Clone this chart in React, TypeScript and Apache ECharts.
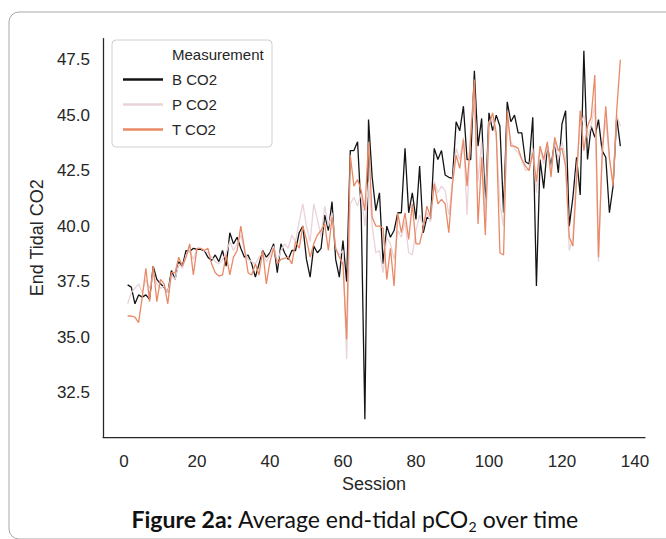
import React, { useEffect, useRef } from "react";
import * as echarts from "echarts";

const SERIES_NAMES = ["B CO2", "P CO2", "T CO2"];
const SERIES_COLORS = ["#141414", "#e9d3d9", "#e98a67"];
const X_TICKS = [0, 20, 40, 60, 80, 100, 120, 140];
const Y_TICKS = [32.5, 35.0, 37.5, 40.0, 42.5, 45.0, 47.5];

const B_CO2 = [
  37.35, 37.25, 36.5, 36.9, 36.8, 36.9, 36.7, 38.2, 37.6, 37.4,
  37.25, 37.0, 38.0, 37.6, 38.4, 38.2, 38.9, 38.85, 39.0, 38.95,
  38.95, 38.9, 38.6, 38.45, 38.7, 38.4, 38.9, 38.2, 39.7, 39.2,
  39.5, 39.0, 38.6, 38.7, 38.3, 37.7, 38.3, 38.9, 38.6, 38.8,
  39.2, 37.9, 39.2, 38.8, 38.5, 38.9, 38.9, 39.7, 40.0, 38.5,
  37.7, 39.1, 38.8, 39.0, 40.5, 39.8, 41.1, 38.5, 37.7, 39.35,
  37.5, 43.4, 43.4, 43.8, 40.6, 31.3, 44.8, 42.2, 40.7, 41.5,
  38.3, 40.0, 39.5, 39.8, 40.6, 40.6, 43.5, 40.6, 41.5, 40.3,
  42.7, 39.7, 40.4, 40.3, 43.5, 43.0, 43.4, 42.3, 42.2, 42.15,
  44.7, 44.3, 45.4, 43.0, 43.0, 47.0, 43.6, 44.85, 40.9, 45.1,
  44.3, 45.0, 44.5, 40.6, 45.6, 44.7, 45.0, 44.2, 44.2, 42.9,
  42.8, 44.9, 37.3, 43.0, 41.7, 43.6, 42.7, 43.8, 42.4, 44.6,
  45.2, 40.0, 41.3, 43.1, 41.4, 47.9, 43.0, 44.5, 44.0, 44.8,
  43.4, 43.1, 40.6, 41.8, 44.9, 43.6,
];

const P_CO2 = [
  36.5, 37.0, 37.2, 37.4, 37.0, 37.6, 37.2, 37.8, 37.4, 37.2,
  37.3, 37.0, 37.8, 37.6, 38.3, 38.1, 38.7, 38.9, 38.5, 39.0,
  39.0, 38.9, 38.8, 38.6, 38.4, 38.3, 38.5, 38.8, 39.3, 38.9,
  39.2, 39.6, 38.9, 38.5, 38.4, 38.3, 38.6, 38.8, 38.4, 38.7,
  39.1, 38.4, 38.9, 39.2, 39.0, 39.6, 39.3, 40.2, 41.0, 40.0,
  39.3, 41.0, 40.3, 39.5, 40.9, 40.0, 40.6, 39.0, 38.7, 38.9,
  34.0, 41.0, 41.3, 40.9, 41.5, 40.0, 42.0, 40.0, 38.8, 38.9,
  37.9, 39.5, 39.2, 38.5, 39.8, 39.5, 40.2, 38.8, 38.7, 39.8,
  40.5, 40.0, 40.6, 40.2, 42.0, 41.5, 41.8, 41.6, 40.5, 42.0,
  43.5, 43.0, 44.0, 40.5, 44.5, 46.0, 42.0, 43.8, 40.5, 44.7,
  44.8, 44.0, 41.0, 40.0, 44.8, 43.8, 43.5, 43.3, 43.0, 42.5,
  42.6, 43.5, 41.5, 43.5, 42.8, 43.6, 42.5, 43.8, 43.0, 43.8,
  43.0, 38.9, 39.5, 42.5, 44.5, 45.0, 44.0, 44.5, 45.5, 38.4,
  43.5, 44.8, 43.0, 42.0, 45.0, 44.5,
];

const T_CO2 = [
  35.95, 35.95, 35.9, 35.65, 36.8, 38.1, 36.6, 38.2, 36.6, 37.6,
  37.4, 36.5, 37.9, 37.9, 38.6, 38.2, 38.6, 39.2, 37.8, 39.0,
  39.0, 38.9, 39.0, 38.3, 37.9, 37.75, 37.8, 38.7, 37.8, 38.6,
  38.9, 40.0, 39.0, 37.9, 37.8, 38.3, 37.8, 38.9, 37.4, 38.4,
  39.0, 38.3, 38.5, 38.55, 38.6, 38.3, 39.3, 39.0, 40.0, 39.4,
  38.6, 39.2, 39.6, 39.8, 40.1, 38.9, 40.4, 39.0, 38.6, 38.3,
  34.9, 43.2, 41.8, 42.1, 41.6, 40.7, 43.8, 40.4, 40.0, 40.0,
  39.9, 37.6, 39.0, 37.3, 40.6, 39.7, 40.6, 39.4, 41.0, 39.2,
  39.2, 39.9, 40.9, 40.4, 41.9, 41.0, 41.2, 41.0, 39.7, 41.9,
  43.2, 42.6, 43.9, 41.8, 44.0, 46.6, 40.1, 43.1, 39.6, 44.5,
  45.1, 44.2, 38.8, 38.7, 45.2, 43.6, 43.6, 43.5, 43.0, 42.7,
  42.5, 43.3, 42.0, 43.6, 43.0, 43.8, 42.2, 44.0, 43.4, 43.5,
  42.7, 39.5, 39.1, 42.1, 45.2, 43.4, 44.5, 44.9, 46.8, 38.6,
  43.1, 45.4, 43.1, 41.8, 45.2, 47.5,
];

const SERIES_VALUES = [B_CO2, P_CO2, T_CO2];

const FONT = "'Liberation Sans', Arial, sans-serif";
const CAPTION_FONT = "Lato, 'Open Sans', sans-serif";
const TEXT_COLOR = "#262626";

export default function App() {
  const ref = useRef<HTMLDivElement>(null);

  useEffect(() => {
    if (!ref.current) return;
    const chart = echarts.init(ref.current, null, { renderer: "svg" });

    const series = SERIES_NAMES.map((name, k) => ({
      name,
      type: "line",
      data: SERIES_VALUES[k].map((v, i) => [i + 1, v]),
      showSymbol: false,
      symbol: "none",
      lineStyle: { width: 1.3, color: SERIES_COLORS[k] },
      itemStyle: { color: SERIES_COLORS[k] },
      z: 2 + k,
    }));

    chart.setOption({
      animation: false,
      backgroundColor: "#ffffff",
      grid: { left: 103, right: 21, top: 38.5, bottom: 102, containLabel: false },
      xAxis: {
        type: "value",
        min: -5.75,
        max: 142.75,
        axisLine: { show: true, onZero: false, lineStyle: { color: TEXT_COLOR, width: 1.25 } },
        axisTick: { show: false },
        splitLine: { show: false },
        axisLabel: {
          customValues: X_TICKS,
          fontSize: 17,
          color: TEXT_COLOR,
          fontFamily: FONT,
          margin: 16,
        },
        name: "Session",
        nameLocation: "middle",
        nameGap: 37,
        nameTextStyle: { fontSize: 18, color: TEXT_COLOR, fontFamily: FONT },
      },
      yAxis: {
        type: "value",
        min: 30.5,
        max: 48.45,
        axisLine: { show: true, onZero: false, lineStyle: { color: TEXT_COLOR, width: 1.25 } },
        axisTick: { show: false },
        splitLine: { show: false },
        axisLabel: {
          customValues: Y_TICKS,
          fontSize: 17,
          color: TEXT_COLOR,
          fontFamily: FONT,
          margin: 13,
          formatter: (v: number) => v.toFixed(1),
        },
        name: "End Tidal CO2",
        nameLocation: "middle",
        nameGap: 56,
        nameTextStyle: { fontSize: 18, color: TEXT_COLOR, fontFamily: FONT },
      },
      legend: {
        data: SERIES_NAMES.map((n) => ({ name: n, icon: "rect" })),
        orient: "vertical",
        left: 118,
        top: 67,
        itemWidth: 40,
        itemHeight: 2.5,
        itemGap: 10,
        textStyle: {
          fontSize: 15,
          color: TEXT_COLOR,
          fontFamily: FONT,
          padding: [0, 0, 0, 4],
        },
        z: 20,
      },
      graphic: [
        {
          type: "rect",
          shape: { x: 9, y: 12, width: 700, height: 527, r: 10 },
          style: { fill: "none", stroke: "#a8a8a8", lineWidth: 1 },
          silent: true,
          z: 0,
        },
        {
          type: "rect",
          shape: { x: 112, y: 40, width: 160, height: 107, r: 4 },
          style: { fill: "rgba(255,255,255,0.85)", stroke: "#d0d0d0", lineWidth: 1 },
          silent: true,
          z: 15,
        },
        {
          type: "text",
          x: 172,
          y: 54,
          style: {
            text: "Measurement",
            fontSize: 15,
            fontFamily: FONT,
            fill: TEXT_COLOR,
            verticalAlign: "middle",
            align: "left",
          },
          z: 20,
        },
        {
          type: "text",
          x: 355,
          y: 519,
          style: {
            text: "{b|Figure 2a:} Average end-tidal pCO{s|2} over time",
            align: "center",
            verticalAlign: "middle",
            fontSize: 23,
            fontFamily: CAPTION_FONT,
            fill: "#111111",
            rich: {
              b: { fontSize: 23, fontWeight: "bold", fontFamily: CAPTION_FONT, fill: "#111111" },
              s: { fontSize: 14, fontFamily: CAPTION_FONT, fill: "#111111", padding: [14, 0, 0, 0] },
            },
          },
          z: 20,
        },
      ],
      series,
    });

    return () => chart.dispose();
  }, []);

  return (
    <div
      ref={ref}
      style={{ position: "fixed", left: 0, top: 0, width: 666, height: 539 }}
    />
  );
}
